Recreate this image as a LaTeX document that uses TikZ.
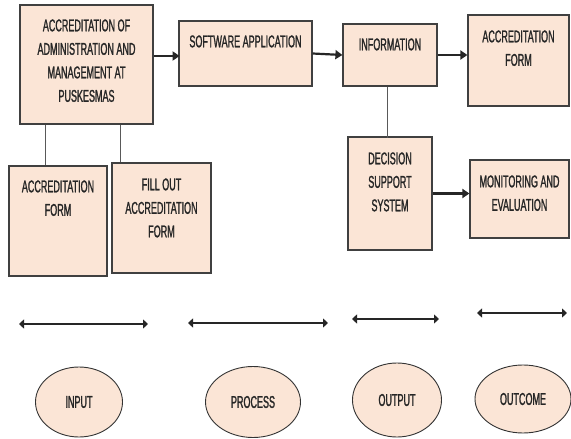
\documentclass[tikz,border=0pt]{standalone}
\usepackage{fontspec}
\newfontfamily\narrowsans[FakeStretch=0.53,FakeBold=1.2]{Liberation Sans}
\usepackage{tikz}
\usetikzlibrary{positioning,arrows.meta,shapes.geometric}
\definecolor{peach}{RGB}{251,229,214}

\begin{document}
\begin{tikzpicture}[x=1pt,y=-1pt,
  blk/.style={draw=black!75,line width=1.2pt,fill=peach,inner sep=0pt},
  oval/.style={ellipse,draw=black!80,line width=0.9pt,fill=peach,inner sep=0pt,text=black!85,font=\narrowsans\fontsize{17}{20}\selectfont},
  txt/.style={inner sep=0pt,align=center,text=black!85,font=\narrowsans\fontsize{17}{23.5}\selectfont},
  flow/.style={line width=2.2pt,draw=black!85,-{Triangle[length=7pt,width=9pt]}},
  link/.style={line width=0.8pt,draw=black!65},
  span/.style={line width=2.2pt,draw=black!85,{Triangle[length=5pt,width=9pt]}-{Triangle[length=5pt,width=9pt]}}]
\useasboundingbox (0,0) rectangle (571,439);
% top row: boxes, text sits near the top of each box
\node[blk,minimum width=133,minimum height=119] (adm) at (86.5,64.5) {};
\node[blk,minimum width=133,minimum height=65] (sw) at (245.5,53.5) {};
\node[blk,minimum width=94,minimum height=62] (info) at (390,55) {};
\node[blk,minimum width=101,minimum height=91] (acc) at (518.5,60.5) {};
\node[blk,minimum width=84,minimum height=113] (dss) at (390,193.5) {};
\node[blk,minimum width=99,minimum height=78] (mon) at (519.5,199) {};
\node[blk,minimum width=98,minimum height=110] (form) at (58,221) {};
\node[blk,minimum width=99,minimum height=110] (fill) at (161.5,218) {};
\node[txt,below=14.8pt of adm.north] (admtxt) {ACCREDITATION OF\\ADMINISTRATION AND\\MANAGEMENT AT\\PUSKESMAS};
\node[txt,below=14.8pt of sw.north] (swtxt) {SOFTWARE APPLICATION};
\node[txt,below=14.8pt of info.north] (infotxt) {INFORMATION};
\node[txt,below=15.8pt of acc.north] (acctxt) {ACCREDITATION\\FORM};
\node[txt,below=15.8pt of dss.north] (dsstxt) {DECISION\\SUPPORT\\SYSTEM};
\node[txt,below=15.8pt of mon.north] (montxt) {MONITORING AND\\EVALUATION};
\node[txt,below=14.8pt of form.north] (formtxt) {ACCREDITATION\\FORM};
\node[txt,below=15.8pt of fill.north] (filltxt) {FILL OUT\\ACCREDITATION\\FORM};
% connectors
\draw[flow] (sw.west -| adm.east) ++(0,2.5) -- ++(26,0);
\draw[flow] (sw.east) -- (info.west);
\draw[flow] (info.east) -- (info.east -| acc.west);
\draw[flow] (dss.east) -- (dss.east -| mon.west);
\draw[link] (info.south) ++(-3,0) -- ++(0,51);
\draw[link] (adm.south west) ++(26,0) coordinate (j1) -- (j1 |- form.north);
\draw[link] (adm.south west) ++(101,0) coordinate (j2) -- (j2 |- fill.north);
% stage markers
\foreach \xa/\xb/\yy in {19/148/324,188/328/323,352/439/319,477/567/313}
  \draw[span] (\xa,\yy) -- (\xb,\yy);
\node[oval,minimum width=87,minimum height=70] (input) at (79,402) {INPUT};
\node[oval,minimum width=95,minimum height=71] (process) at (253,402) {PROCESS};
\node[oval,minimum width=89,minimum height=74] (output) at (397,400) {OUTPUT};
\node[oval,minimum width=96,minimum height=68] (outcome) at (523,399) {OUTCOME};
\end{tikzpicture}
\end{document}
